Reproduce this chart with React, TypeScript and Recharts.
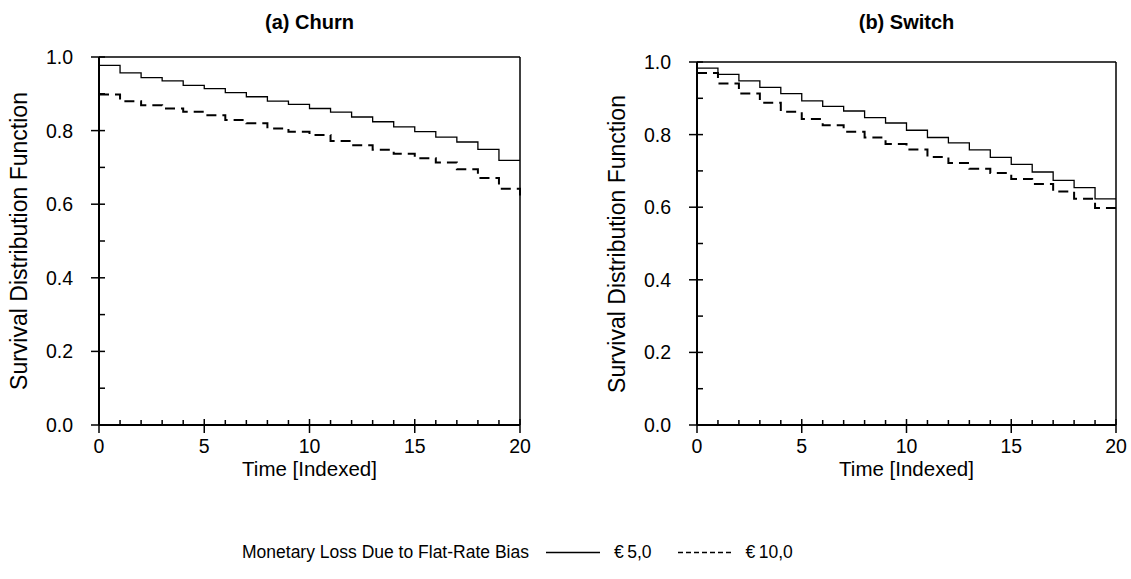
import { LineChart, Line, XAxis, YAxis, ReferenceLine } from "recharts"

// time index 0..20 (survival curves read at each integer step)
const TIME = [0, 1, 2, 3, 4, 5, 6, 7, 8, 9, 10, 11, 12, 13, 14, 15, 16, 17, 18, 19, 20]

// (a) Churn
const CHURN_EUR5 = [0.977, 0.957, 0.944, 0.935, 0.923, 0.914, 0.903, 0.892, 0.88, 0.871, 0.86, 0.85, 0.837, 0.824, 0.81, 0.797, 0.782, 0.769, 0.749, 0.719, 0.719]
const CHURN_EUR10 = [0.898, 0.88, 0.869, 0.86, 0.851, 0.842, 0.829, 0.82, 0.806, 0.797, 0.788, 0.772, 0.76, 0.748, 0.737, 0.725, 0.713, 0.695, 0.671, 0.642, 0.61]

// (b) Switch
const SWITCH_EUR5 = [0.983, 0.966, 0.948, 0.93, 0.913, 0.893, 0.878, 0.865, 0.847, 0.832, 0.812, 0.792, 0.777, 0.758, 0.737, 0.718, 0.697, 0.674, 0.654, 0.623, 0.623]
const SWITCH_EUR10 = [0.97, 0.941, 0.913, 0.888, 0.863, 0.843, 0.826, 0.808, 0.792, 0.774, 0.759, 0.738, 0.722, 0.706, 0.694, 0.678, 0.664, 0.643, 0.623, 0.598, 0.586]

const X_TICKS = [0, 1, 2, 3, 4, 5, 6, 7, 8, 9, 10, 11, 12, 13, 14, 15, 16, 17, 18, 19, 20]
const X_LABELS = [0, 5, 10, 15, 20]
const Y_TICKS = [0, 0.1, 0.2, 0.3, 0.4, 0.5, 0.6, 0.7, 0.8, 0.9, 1]
const Y_LABELS = [0, 0.2, 0.4, 0.6, 0.8, 1]

const SERIES_NAMES = ["€\u20095,0", "€\u200910,0"]
const LEGEND_TITLE = "Monetary Loss Due to Flat-Rate Bias"

const FONT = "Arial, 'Liberation Sans', sans-serif"
const INK = "#000"
const DASH = "10 6"
const TICK_FONT = 19.5

function YTick(props: any) {
  const { x, y, payload } = props
  const v = payload.value
  const major = Y_LABELS.includes(v)
  return (
    <g>
      <line x1={major ? x - 8 : x} x2={x + 6} y1={y} y2={y} stroke={INK} strokeWidth={1.5} />
      {major && (
        <text x={x - 26} y={y} dy="0.36em" textAnchor="end" fontSize={TICK_FONT} fontFamily={FONT} fill={INK}>
          {v.toFixed(1)}
        </text>
      )}
    </g>
  )
}

function XTick(props: any) {
  const { x, y, payload } = props
  const v = payload.value
  const major = X_LABELS.includes(v)
  return (
    <g>
      <line x1={x} x2={x} y1={major ? y + 8 : y} y2={y - (major ? 6 : 5)} stroke={INK} strokeWidth={1.5} />
      {major && (
        <text x={x} y={y + 21} dy="0.36em" textAnchor="middle" fontSize={TICK_FONT} fontFamily={FONT} fill={INK}>
          {v}
        </text>
      )}
    </g>
  )
}

interface PanelProps {
  title: string
  eur5: number[]
  eur10: number[]
  left: number
  width: number
  margin: { top: number; right: number; bottom: number; left: number }
}

const CHART_H = 500

function Panel({ title, eur5, eur10, left, width, margin }: PanelProps) {
  const data = TIME.map((t, i) => ({ t, eur5: eur5[i], eur10: eur10[i] }))
  // axis strip is 1px wide/high, so the plot starts one pixel inside the margin
  const plotL = margin.left + 1
  const plotR = width - margin.right
  const plotT = margin.top
  const plotB = CHART_H - margin.bottom - 1
  const cx = left + (plotL + plotR) / 2

  return (
    <>
      <div style={{ position: "absolute", left: cx, top: 22, transform: "translate(-50%, -50%)", fontSize: 20, fontWeight: 700, whiteSpace: "nowrap" }}>
        {title}
      </div>
      <div style={{ position: "absolute", left: left + plotL - 80, top: (plotT + plotB) / 2, transform: "translate(-50%, -50%) rotate(-90deg)", fontSize: 23, whiteSpace: "nowrap" }}>
        Survival Distribution Function
      </div>
      <div style={{ position: "absolute", left: cx, top: plotB + 44, transform: "translate(-50%, -50%)", fontSize: 20.5, whiteSpace: "nowrap" }}>
        Time [Indexed]
      </div>
      <div style={{ position: "absolute", left, top: 0 }}>
        <LineChart width={width} height={CHART_H} data={data} margin={margin}>
          <XAxis
            dataKey="t"
            type="number"
            domain={[0, 20]}
            ticks={X_TICKS}
            interval={0}
            height={1}
            tickSize={0}
            tickMargin={0}
            tickLine={false}
            axisLine={{ stroke: INK, strokeWidth: 2 }}
            tick={<XTick />}
          />
          <YAxis
            type="number"
            domain={[0, 1]}
            ticks={Y_TICKS}
            interval={0}
            width={1}
            tickSize={0}
            tickMargin={0}
            tickLine={false}
            axisLine={{ stroke: INK, strokeWidth: 2 }}
            tick={<YTick />}
          />
          <ReferenceLine y={1} stroke={INK} strokeWidth={1.5} />
          <ReferenceLine x={20} stroke={INK} strokeWidth={1.5} />
          <Line type="stepAfter" dataKey="eur5" name={SERIES_NAMES[0]} stroke={INK} strokeWidth={1.3} dot={false} activeDot={false} isAnimationActive={false} />
          <Line type="stepAfter" dataKey="eur10" name={SERIES_NAMES[1]} stroke={INK} strokeWidth={2} strokeDasharray={DASH} dot={false} activeDot={false} isAnimationActive={false} />
        </LineChart>
      </div>
    </>
  )
}

function LegendSample({ dashed }: { dashed: boolean }) {
  return (
    <svg width={54} height={10} style={{ display: "block" }}>
      <line x1={0} x2={54} y1={5} y2={5} stroke={INK} strokeWidth={dashed ? 1.5 : 1.3} strokeDasharray={dashed ? "5 3" : undefined} />
    </svg>
  )
}

export default function App() {
  return (
    <div style={{ position: "absolute", left: 0, top: 0, width: 1131, height: 579, background: "#fff", fontFamily: FONT, color: INK, overflow: "hidden" }}>
      <Panel title="(a) Churn" eur5={CHURN_EUR5} eur10={CHURN_EUR10} left={0} width={560} margin={{ top: 57, right: 40, bottom: 74, left: 98 }} />
      <Panel title="(b) Switch" eur5={SWITCH_EUR5} eur10={SWITCH_EUR10} left={560} width={571} margin={{ top: 62, right: 15, bottom: 74, left: 136 }} />
      <div style={{ position: "absolute", left: 242, top: 552, transform: "translateY(-50%)", display: "flex", alignItems: "center", fontSize: 17.5, whiteSpace: "nowrap" }}>
        <span>{LEGEND_TITLE}</span>
        <span style={{ marginLeft: 17 }}><LegendSample dashed={false} /></span>
        <span style={{ marginLeft: 14 }}>{SERIES_NAMES[0]}</span>
        <span style={{ marginLeft: 26 }}><LegendSample dashed={true} /></span>
        <span style={{ marginLeft: 14 }}>{SERIES_NAMES[1]}</span>
      </div>
    </div>
  )
}
